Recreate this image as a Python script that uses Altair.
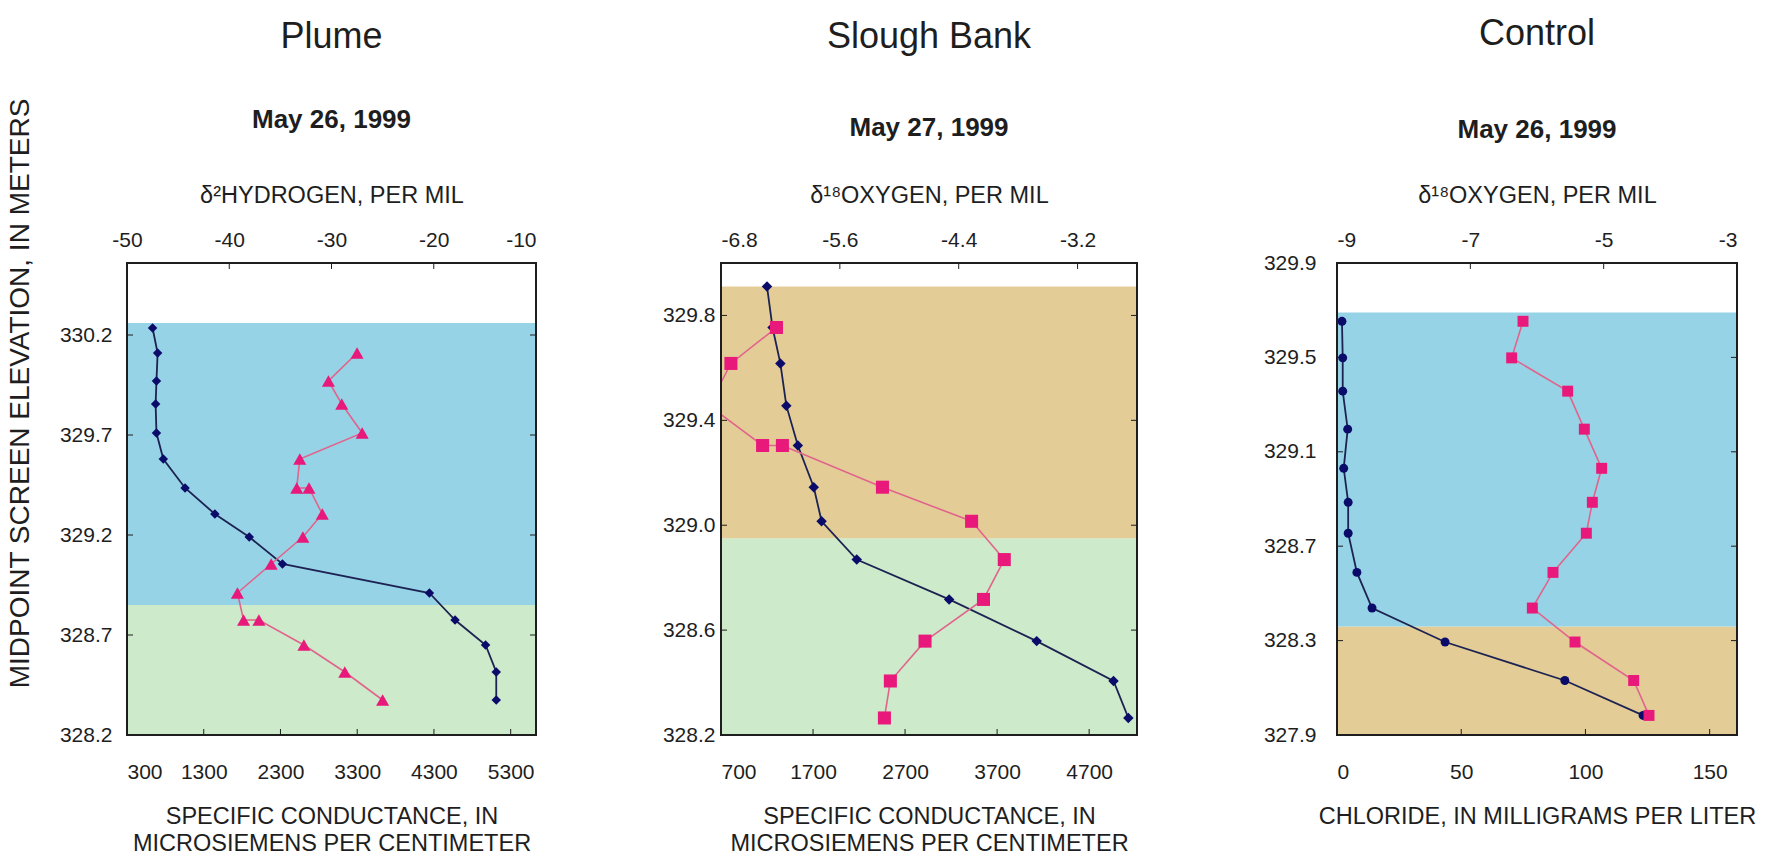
import altair as alt
import pandas as pd

FONT = "Liberation Sans"
INK = "#1e1e1e"
NAVY = "#0b0b6a"
NAVY_LINE = "#1c2352"
PINK = "#e8197a"
PINK_LINE = "#e0648c"
BLUE = "#97d3e6"
GREEN = "#cdeacb"
TAN = "#e4cc97"

# ---- Plume, May 26, 1999 ----
plume_elev = [330.235, 330.11, 329.97, 329.855, 329.71, 329.58, 329.435, 329.305,
              329.19, 329.055, 328.91, 328.775, 328.65, 328.515, 328.375]
plume_cond = [633, 699, 684, 673, 684, 773, 1057, 1445, 1893, 2326, 4241, 4575,
              4973, 5112, 5112]
plume_h2_elev = [330.11, 329.97, 329.855, 329.71, 329.58, 329.435, 329.435, 329.305,
                 329.19, 329.055, 328.91, 328.775, 328.775, 328.65, 328.515, 328.375]
plume_h2 = [-27.5, -30.3, -29.0, -27.0, -33.1, -33.4, -32.2, -30.9, -32.8, -35.9,
            -39.2, -38.6, -37.1, -32.7, -28.7, -25.0]
plume_bands_lo = [328.2, 328.85]
plume_bands_hi = [328.85, 330.26]
plume_bands_col = [GREEN, BLUE]

# ---- Slough Bank, May 27, 1999 ----
slough_elev = [329.91, 329.754, 329.617, 329.456, 329.304, 329.145, 329.015, 328.869,
               328.717, 328.558, 328.406, 328.265]
slough_cond = [1200, 1260, 1345, 1410, 1535, 1708, 1793, 2175, 3179, 4130, 4965, 5126]
slough_o18_elev = [329.754, 329.617, 329.456, 329.304, 329.304, 329.145, 329.015,
                   328.869, 328.717, 328.558, 328.406, 328.265]
slough_o18 = [-6.24, -6.70, -6.92, -6.38, -6.18, -5.17, -4.27, -3.94, -4.15, -4.74,
              -5.09, -5.15]
slough_bands_lo = [328.2, 328.95]
slough_bands_hi = [328.95, 329.91]
slough_bands_col = [GREEN, TAN]

# ---- Control, May 26, 1999 ----
control_elev = [329.653, 329.498, 329.357, 329.196, 329.03, 328.886, 328.755, 328.589,
                328.438, 328.294, 328.131, 327.983]
control_cl = [2.0, 2.3, 2.3, 4.3, 2.7, 4.5, 4.5, 8.0, 14.1, 43.5, 91.7, 123.2]
control_o18 = [-6.21, -6.38, -5.54, -5.29, -5.03, -5.17, -5.26, -5.76, -6.07, -5.43,
               -4.55, -4.32]
control_bands_lo = [327.9, 328.36]
control_bands_hi = [328.36, 329.69]
control_bands_col = [TAN, BLUE]

# axis tick values
plume_yticks = [328.2, 328.7, 329.2, 329.7, 330.2]
plume_bticks = [300, 1300, 2300, 3300, 4300, 5300]
plume_tticks = [-50, -40, -30, -20, -10]
slough_yticks = [328.2, 328.6, 329.0, 329.4, 329.8]
slough_bticks = [700, 1700, 2700, 3700, 4700]
slough_tticks = [-6.8, -5.6, -4.4, -3.2]
control_yticks = [327.9, 328.3, 328.7, 329.1, 329.5, 329.9]
control_bticks = [0, 50, 100, 150]
control_tticks = [-9, -7, -5, -3]

H = 472
TICK = 6
COND_TITLE = ["SPECIFIC CONDUCTANCE, IN", "MICROSIEMENS PER CENTIMETER"]


def panel(name, date, W, ydom, yticks, ylabpad, ytitle,
          bdom, bticks, btitle, bx, by, bshape, bsize,
          tdom, tticks, ttitle, tx, ty, tshape, tsize, talign,
          blo, bhi, bcol, t_offset, sub_pad):
    ysc = alt.Scale(domain=ydom, nice=False, zero=False)
    bsc = alt.Scale(domain=bdom, nice=False, zero=False)
    tsc = alt.Scale(domain=tdom, nice=False, zero=False)

    yaxis_kw = dict(values=yticks, format=".1f", labelPadding=ylabpad, ticks=False,
                    title=None)
    if ytitle:
        yaxis_kw.update(title=ytitle, titleFontSize=28, titleX=-107, titleY=130,
                        titleAngle=270, titleAlign="center", titleBaseline="middle")
    yaxis = alt.Axis(**yaxis_kw)

    def yenc(field):
        # every layer carries the same axis so the shared y axis merges cleanly
        return alt.Y(f"{field}:Q", scale=ysc, axis=yaxis)

    # background zones
    bands = alt.Chart(pd.DataFrame({"lo": blo, "hi": bhi, "c": bcol})).mark_rect().encode(
        x=alt.value(0), x2=alt.value(W),
        y=yenc("lo"), y2="hi:Q",
        color=alt.Color("c:N", scale=None),
    )

    # inward tick marks on the left and right edges
    ytk = pd.DataFrame({"t": yticks})
    ytick_l = alt.Chart(ytk).mark_rule(color=INK, strokeWidth=1).encode(
        x=alt.value(0), x2=alt.value(TICK), y=yenc("t"))
    ytick_r = alt.Chart(ytk).mark_rule(color=INK, strokeWidth=1).encode(
        x=alt.value(W - TICK), x2=alt.value(W), y=yenc("t"))

    # bottom-axis series (navy)
    ndf = pd.DataFrame({"v": bx, "e": by, "k": list(range(len(bx)))})
    n_line = alt.Chart(ndf).mark_line(color=NAVY_LINE, strokeWidth=1.8, clip=True).encode(
        x=alt.X("v:Q", scale=bsc,
                axis=alt.Axis(orient="bottom", values=bticks, format="d", title=btitle,
                              ticks=False, labelPadding=26, titlePadding=22,
                              titleLineHeight=27)),
        y=yenc("e"),
        order="k:Q")
    n_pts = alt.Chart(ndf).mark_point(shape=bshape, filled=True, size=bsize, color=NAVY,
                                      opacity=1, clip=True).encode(
        x=alt.X("v:Q", scale=bsc, axis=None),
        y=yenc("e"))
    b_ticks = alt.Chart(pd.DataFrame({"t": bticks})).mark_rule(color=INK, strokeWidth=1).encode(
        x=alt.X("t:Q", scale=bsc, axis=None), y=alt.value(H - TICK), y2=alt.value(H))

    # top-axis series (pink)
    pdf = pd.DataFrame({"v": tx, "e": ty, "k": list(range(len(tx)))})
    taxis_kw = dict(orient="top", values=tticks, labelExpr="'' + datum.value",
                    title=ttitle, ticks=False, labelPadding=13, titlePadding=22)
    if talign is not None:
        taxis_kw["labelAlign"] = talign
    p_line = alt.Chart(pdf).mark_line(color=PINK_LINE, strokeWidth=1.6, clip=True).encode(
        x=alt.X("v:Q", scale=tsc, axis=alt.Axis(**taxis_kw)),
        y=yenc("e"),
        order="k:Q")
    p_pts = alt.Chart(pdf).mark_point(shape=tshape, filled=True, size=tsize, color=PINK,
                                      opacity=1, clip=True).encode(
        x=alt.X("v:Q", scale=tsc, axis=None),
        y=yenc("e"))
    t_ticks = alt.Chart(pd.DataFrame({"t": tticks})).mark_rule(color=INK, strokeWidth=1).encode(
        x=alt.X("t:Q", scale=tsc, axis=None), y=alt.value(0), y2=alt.value(TICK))

    frame = alt.Chart(pd.DataFrame({"f": [0]})).mark_rect(
        fillOpacity=0, stroke=INK, strokeWidth=2).encode(
        x=alt.value(0), x2=alt.value(W), y=alt.value(0), y2=alt.value(H))

    return alt.layer(bands, ytick_l, ytick_r, n_line, n_pts, b_ticks,
                     p_line, p_pts, t_ticks, frame).resolve_scale(
        x="independent").properties(
        width=W, height=H,
        title=alt.TitleParams(text=name, subtitle=date, fontSize=36, fontWeight="normal",
                              subtitleFontSize=26, subtitleFontWeight="bold",
                              anchor="middle", offset=t_offset,
                              subtitlePadding=sub_pad))


# the last hydrogen label sits flush with the frame's right edge
plume_talign = {"condition": {"test": "datum.value == -10", "value": "right"},
                "value": "center"}

p1 = panel("Plume", "May 26, 1999", 409, [328.2, 330.56], plume_yticks, 15,
           "MIDPOINT SCREEN ELEVATION, IN METERS",
           [300, 5630], plume_bticks, COND_TITLE, plume_cond, plume_elev, "diamond", 90,
           [-50, -10], plume_tticks, "δ²HYDROGEN, PER MIL", plume_h2, plume_h2_elev,
           "triangle-up", 170, plume_talign,
           plume_bands_lo, plume_bands_hi, plume_bands_col, -36.5, 51)

p2 = panel("Slough Bank", "May 27, 1999", 416, [328.2, 330.0], slough_yticks, 6, None,
           [700, 5220], slough_bticks, COND_TITLE, slough_cond, slough_elev, "diamond", 110,
           [-6.8, -2.6], slough_tticks, "δ¹⁸OXYGEN, PER MIL", slough_o18, slough_o18_elev,
           "square", 170, None,
           slough_bands_lo, slough_bands_hi, slough_bands_col, 41, 59)

p3 = panel("Control", "May 26, 1999", 400, [327.9, 329.9], control_yticks, 21, None,
           [0, 161], control_bticks, "CHLORIDE, IN MILLIGRAMS PER LITER",
           control_cl, control_elev, "circle", 80,
           [-9, -3], control_tticks, "δ¹⁸OXYGEN, PER MIL", control_o18, control_elev,
           "square", 120, None,
           control_bands_lo, control_bands_hi, control_bands_col, 39, 64)

chart = alt.hconcat(p1, p2, p3, spacing=125).properties(
    padding={"left": 5, "top": 16, "right": 0, "bottom": 0}
).configure_view(stroke=None).configure_axis(
    labelFont=FONT, titleFont=FONT, labelColor=INK, titleColor=INK,
    labelFontSize=21, titleFontSize=23.5, titleFontWeight="normal",
    grid=False, domain=False,
).configure_title(
    font=FONT, color=INK, subtitleFont=FONT, subtitleColor=INK,
)

chart.save("out.html", embed_options={"renderer": "svg", "actions": False})
